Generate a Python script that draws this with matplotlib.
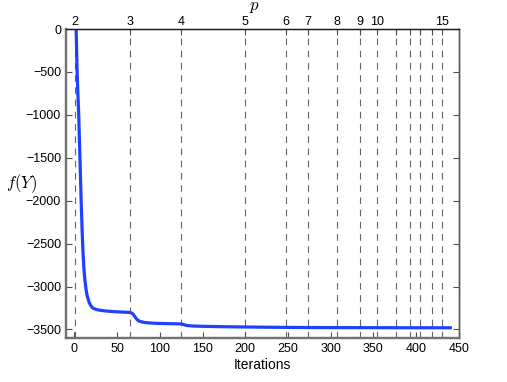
import numpy as np
import matplotlib
matplotlib.use("Agg")
import matplotlib.pyplot as plt

plt.rcParams['font.family'] = ['Liberation Sans', 'DejaVu Sans']
plt.rcParams['mathtext.fontset'] = 'cm'

# --- 데이터 ---
iters = [2, 3, 4, 5, 6, 7, 8, 9, 10, 11, 12, 13, 14, 15, 17, 19, 21, 23, 26, 30,
         35, 42, 50, 58, 64, 67, 69, 71, 73, 75, 78, 82, 88, 95, 105, 115, 124,
         127, 130, 134, 140, 150, 170, 200, 230, 265, 300, 350, 400, 440]
fvals = [0, -450, -750, -1000, -1350, -1700, -2050, -2350, -2600, -2780, -2900,
         -2990, -3060, -3110, -3180, -3220, -3245, -3258, -3268, -3276, -3283,
         -3289, -3294, -3298, -3301, -3308, -3325, -3355, -3380, -3398, -3410,
         -3418, -3424, -3428, -3431, -3433, -3435, -3440, -3450, -3456, -3460,
         -3463, -3467, -3471, -3474, -3477, -3478, -3479, -3480, -3480]

# p 가 바뀌는 iteration 위치
p_iters = [1, 65, 125, 200, 248, 273, 307, 334, 354, 376, 393, 405, 418, 430]
p_labels = ['2', '3', '4', '5', '6', '7', '8', '9', '10', '', '', '', '', '15']

x_ticks = [0, 50, 100, 150, 200, 250, 300, 350, 400, 450]
y_ticks = [0, -500, -1000, -1500, -2000, -2500, -3000, -3500]

# --- 그래프 ---
fig = plt.figure(figsize=(5.07, 3.82), dpi=100)
ax = fig.add_axes([0.130, 0.115, 0.775, 0.809])

for xv in p_iters:
    ax.axvline(xv, color='0.4', lw=0.8, linestyle=(0, (6, 5)), zorder=1)

ax.plot(iters, fvals, color='#2040ff', lw=2.3, zorder=3)

ax.set_xlim(-10, 450)
ax.set_ylim(-3600, 0)
ax.set_xticks(x_ticks)
ax.set_yticks(y_ticks)
ax.set_yticklabels([f"{v:d}".replace('-', '\u2212') for v in y_ticks])
ax.tick_params(direction='in', length=4, labelsize=9, top=True, right=True,
               color='0.3')
ax.set_xlabel('Iterations', fontsize=10, labelpad=2)
ax.set_ylabel('$f(Y)$', fontsize=12, rotation=0, va='center', ha='center')
ax.yaxis.set_label_coords(-0.112, 0.50)

ax2 = ax.twiny()
ax2.set_xlim(ax.get_xlim())
ax2.set_xticks(p_iters)
ax2.set_xticklabels(p_labels)
ax2.tick_params(direction='in', length=4, labelsize=9, pad=1, color='0.3')
ax2.set_xlabel('$p$', fontsize=12, labelpad=1)
ax2.xaxis.set_label_coords(0.48, 1.06)

for a in (ax, ax2):
    a.spines['left'].set_color('0.45')
    a.spines['left'].set_linewidth(1.6)
    a.spines['bottom'].set_color('0.45')
    a.spines['bottom'].set_linewidth(1.6)
    a.spines['right'].set_color('0.35')
    a.spines['right'].set_linewidth(1.0)
    a.spines['top'].set_color('0.1')
    a.spines['top'].set_linewidth(0.9)

plt.savefig('out.png', dpi=100)
plt.close()
